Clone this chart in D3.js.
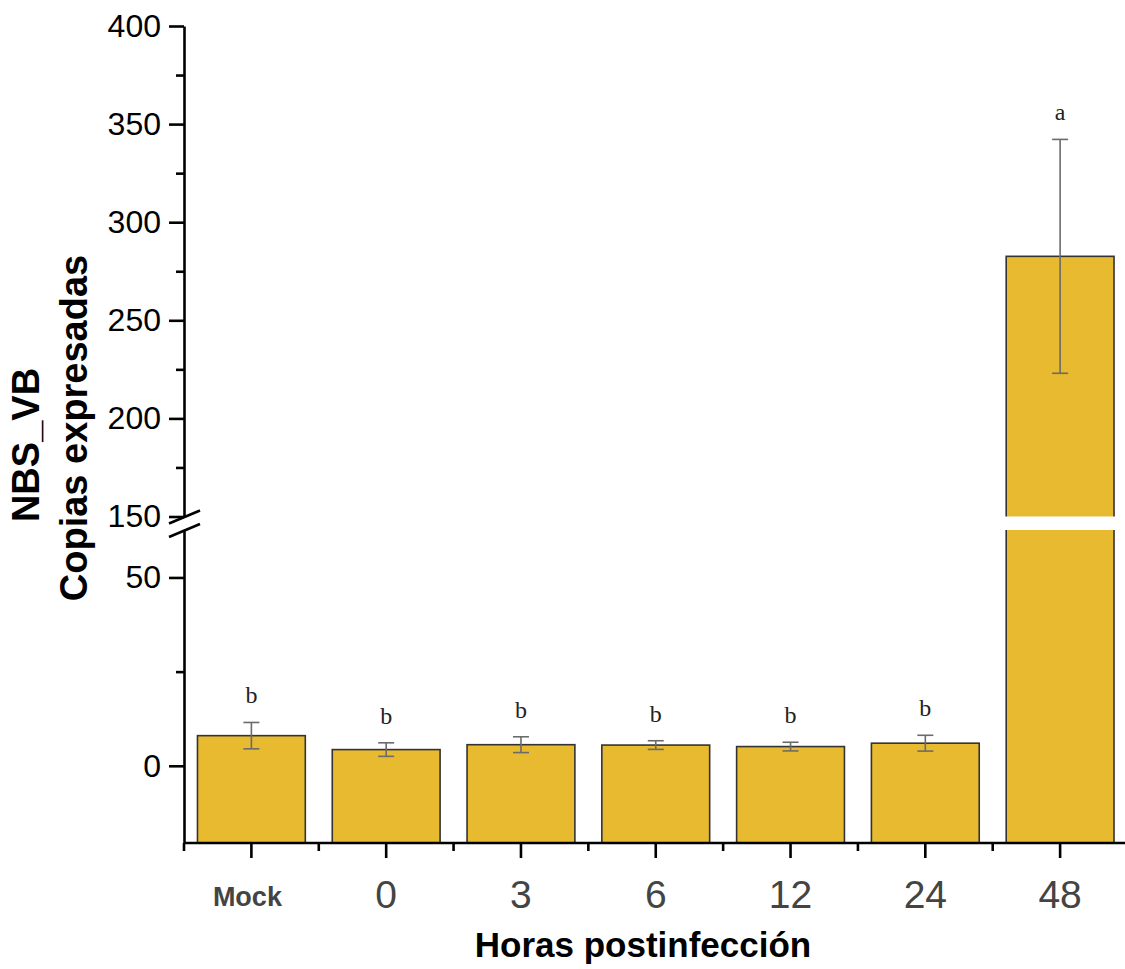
<!DOCTYPE html>
<html>
<head>
<meta charset="utf-8">
<script src="https://cdn.jsdelivr.net/npm/d3@7"></script>
<style>
  html, body { margin: 0; padding: 0; background: #fff; }
  svg { display: block; }
</style>
</head>
<body>
<svg id="chart" width="1125" height="969"></svg>
<script>
// Expression of NBS_VB (copies) by hours post-infection
const categories = ["Mock", "0", "3", "6", "12", "24", "48"];
const means      = [8.0, 4.3, 5.6, 5.5, 5.1, 6.0, 282.6];
const errors     = [3.5, 1.8, 2.1, 1.15, 1.15, 2.1, 59.6];
const groups     = ["b", "b", "b", "b", "b", "b", "a"];

// broken y axis: lower and upper segments
const lowerTicks = [0, 50];
const lowerMinor = [25];
const upperTicks = [150, 200, 250, 300, 350, 400];
const upperMinor = [175, 225, 275, 325, 375];
const breakAt = 150;

const svg = d3.select("#chart");

const x = d3.scaleBand()
  .domain(categories)
  .range([184, 1127.5])
  .paddingInner(0.2)
  .paddingOuter(0.1);

const yLow = d3.scaleLinear().domain([-20.5, 62.6]).range([843, 530]);
const yUp  = d3.scaleLinear().domain([150, 400]).range([516.5, 26]);
const yPos = v => (v >= breakAt ? yUp(v) : yLow(v));
const yBase = yLow.range()[0];

const barFill = "#e8ba30";

// bars
const bars = svg.append("g");
categories.forEach((c, i) => {
  bars.append("rect")
    .attr("x", x(c))
    .attr("y", yPos(means[i]))
    .attr("width", x.bandwidth())
    .attr("height", yBase - yPos(means[i]))
    .attr("fill", barFill)
    .attr("stroke", "#333")
    .attr("stroke-width", 1.6);
});

// error bars
const eb = svg.append("g").attr("stroke", "#6b6b6b").attr("stroke-width", 1.6).attr("fill", "none");
categories.forEach((c, i) => {
  const cx = x(c) + x.bandwidth() / 2;
  const hi = yPos(means[i] + errors[i]);
  const lo = yPos(means[i] - errors[i]);
  eb.append("line").attr("x1", cx).attr("x2", cx).attr("y1", hi).attr("y2", lo);
  eb.append("line").attr("x1", cx - 8).attr("x2", cx + 8).attr("y1", hi).attr("y2", hi);
  eb.append("line").attr("x1", cx - 8).attr("x2", cx + 8).attr("y1", lo).attr("y2", lo);
});

// gap across bars spanning the axis break
categories.forEach((c, i) => {
  if (means[i] >= breakAt) {
    svg.append("rect")
      .attr("x", x(c) - 2)
      .attr("y", yUp(breakAt))
      .attr("width", x.bandwidth() + 4)
      .attr("height", yLow.range()[1] - yUp(breakAt))
      .attr("fill", "#fff");
  }
});

// significance letters
svg.append("g").selectAll("text")
  .data(categories)
  .join("text")
  .attr("x", c => x(c) + x.bandwidth() / 2)
  .attr("y", (c, i) => yPos(means[i] + errors[i]) - 19)
  .attr("text-anchor", "middle")
  .attr("font-family", "'Liberation Serif', 'DejaVu Serif', serif")
  .attr("font-size", 24)
  .attr("fill", "#222")
  .text((c, i) => groups[i]);

// y axis, lower segment
const axisFont = "'Liberation Sans', Arial, sans-serif";
function styleAxis(g) {
  g.selectAll(".domain").attr("stroke", "#000").attr("stroke-width", 2.6);
  g.selectAll(".tick line").attr("stroke", "#000").attr("stroke-width", 2.6);
}
const gLow = svg.append("g").attr("transform", "translate(184,0)")
  .call(d3.axisLeft(yLow).tickValues(lowerTicks).tickSize(15).tickSizeOuter(0).tickPadding(8));
gLow.selectAll("text").attr("font-family", axisFont).attr("font-size", 32).attr("fill", "#000");
styleAxis(gLow);
const gLowMinor = svg.append("g").attr("transform", "translate(184,0)")
  .call(d3.axisLeft(yLow).tickValues(lowerMinor).tickSize(8).tickFormat(""));
gLowMinor.select(".domain").remove();
styleAxis(gLowMinor);

// y axis, upper segment
const gUp = svg.append("g").attr("transform", "translate(184,0)")
  .call(d3.axisLeft(yUp).tickValues(upperTicks).tickSize(15).tickSizeOuter(0).tickPadding(8));
gUp.selectAll("text").attr("font-family", axisFont).attr("font-size", 32).attr("fill", "#000");
styleAxis(gUp);
const gUpMinor = svg.append("g").attr("transform", "translate(184,0)")
  .call(d3.axisLeft(yUp).tickValues(upperMinor).tickSize(8).tickFormat(""));
gUpMinor.select(".domain").remove();
styleAxis(gUpMinor);

// break marks on the y axis
const brk = svg.append("g").attr("stroke", "#000").attr("stroke-width", 2.6);
brk.append("line").attr("x1", 169).attr("y1", yUp(breakAt) + 7).attr("x2", 200).attr("y2", yUp(breakAt) - 6);
brk.append("line").attr("x1", 169).attr("y1", yLow.range()[1] + 7).attr("x2", 200).attr("y2", yLow.range()[1] - 6);

// x axis
const gx = svg.append("g").attr("transform", `translate(0,${yBase})`)
  .call(d3.axisBottom(x).tickSize(15).tickSizeOuter(0).tickPadding(22));
gx.select(".domain").attr("d", `M184,0H1127.5`);
styleAxis(gx);
gx.selectAll(".tick text")
  .attr("font-family", axisFont)
  .attr("fill", "#444")
  .attr("font-size", d => d === "Mock" ? 27 : 39)
  .attr("font-weight", d => d === "Mock" ? "bold" : "normal")
  .attr("dx", d => d === "Mock" ? -4 : 0)
  .attr("dy", d => d === "Mock" ? "0.95em" : "0.71em");

// minor ticks at category boundaries
const step = x.step();
const bounds = d3.range(0, categories.length + 1).map(k => x.range()[0] + k * step);
svg.append("g").selectAll("line")
  .data(bounds)
  .join("line")
  .attr("x1", d => d).attr("x2", d => d)
  .attr("y1", yBase).attr("y2", yBase + 8)
  .attr("stroke", "#000").attr("stroke-width", 2.6);

// axis titles
svg.append("text")
  .attr("x", 643)
  .attr("y", 957)
  .attr("text-anchor", "middle")
  .attr("font-family", axisFont)
  .attr("font-weight", "bold")
  .attr("font-size", 35)
  .attr("fill", "#000")
  .text("Horas postinfección");

const titleStyle = t => t
  .attr("text-anchor", "middle")
  .attr("font-family", axisFont)
  .attr("font-weight", "bold")
  .attr("font-size", 38)
  .attr("fill", "#000");
svg.append("text").call(titleStyle)
  .attr("transform", "translate(39,445) rotate(-90)")
  .text("NBS_VB");
svg.append("text").call(titleStyle)
  .attr("transform", "translate(87,428) rotate(-90)")
  .text("Copias expresadas");
</script>
</body>
</html>
